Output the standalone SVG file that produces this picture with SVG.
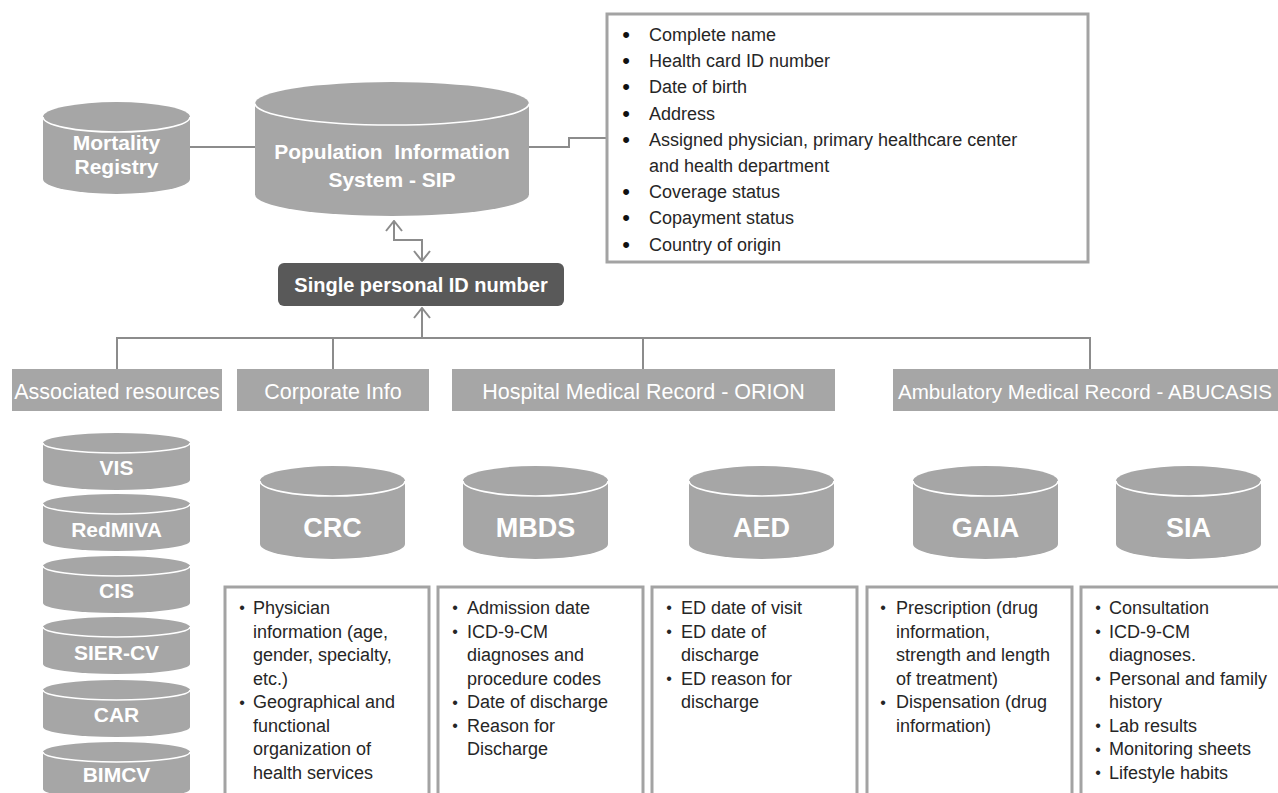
<svg xmlns="http://www.w3.org/2000/svg" width="1278" height="793" viewBox="0 0 1278 793">
<style>
  .cyl{fill:#a6a6a6}
  .rim{fill:none;stroke:#ffffff;stroke-width:1.6}
  .hdr{fill:#a6a6a6}
  .box{fill:#ffffff;stroke:#a3a3a3;stroke-width:3}
  .con{fill:none;stroke:#8c8c8c;stroke-width:2}
  .wb{font-family:"Liberation Sans",Arial,sans-serif;font-weight:bold;fill:#ffffff;text-anchor:middle}
  .wh{font-family:"Liberation Sans",Arial,sans-serif;fill:#ffffff;font-size:21.5px;text-anchor:middle}
  .whs{font-family:"Liberation Sans",Arial,sans-serif;fill:#ffffff;font-size:21px;text-anchor:start}
  .lst{font-family:"Liberation Sans",Arial,sans-serif;fill:#262626;font-size:18px}
  .bul{font-family:"Liberation Sans",Arial,sans-serif;fill:#262626;font-size:16px;text-anchor:middle}
  .bulb{font-family:"Liberation Sans",Arial,sans-serif;fill:#111111;font-size:22px;text-anchor:middle}
</style>
<defs>
  <marker id="arr" viewBox="0 0 12 18" refX="11" refY="9" markerWidth="12" markerHeight="18" markerUnits="userSpaceOnUse" orient="auto-start-reverse">
    <path d="M1,1 L11,9 L1,17" fill="none" stroke="#8c8c8c" stroke-width="2"/>
  </marker>
</defs>
<rect width="1278" height="793" fill="#ffffff"/>

<g id="connectors">
  <path class="con" d="M190,147 H255"/>
  <path class="con" d="M529,147 H569 V138 H607"/>
  <path class="con" d="M394,221 V240 H422 V261" marker-start="url(#arr)" marker-end="url(#arr)"/>
  <path class="con" d="M422,338 V308" marker-end="url(#arr)"/>
  <path class="con" d="M117,369 V338 H1090 V369"/>
  <path class="con" d="M333,338 V369"/>
  <path class="con" d="M643,338 V369"/>
</g>

<g id="mortality">
  <path class="cyl" d="M43,117 V179 A73.5,15 0 0 0 190,179 V117 Z"/>
  <ellipse class="cyl" cx="116.5" cy="117" rx="73.5" ry="15"/>
  <path class="rim" d="M43,117 A73.5,15 0 0 0 190,117"/>
  <text class="wb" font-size="21" x="116.5" y="150">Mortality</text>
  <text class="wb" font-size="21" x="116.5" y="174">Registry</text>
</g>

<g id="sip">
  <path class="cyl" d="M255,103.5 V194.5 A137,21.5 0 0 0 529,194.5 V103.5 Z"/>
  <ellipse class="cyl" cx="392" cy="103.5" rx="137" ry="21.5"/>
  <path class="rim" d="M255,103.5 A137,21.5 0 0 0 529,103.5"/>
  <text class="wb" font-size="21" x="392" y="159" xml:space="preserve">Population  Information</text>
  <text class="wb" font-size="21" x="392" y="187">System - SIP</text>
</g>

<g id="sip-details">
  <rect class="box" x="607" y="14" width="481" height="248"/>
  <g class="bulb">
    <text x="626" y="42">•</text><text x="626" y="68">•</text><text x="626" y="94">•</text>
    <text x="626" y="121">•</text><text x="626" y="147">•</text><text x="626" y="199">•</text>
    <text x="626" y="225">•</text><text x="626" y="252">•</text>
  </g>
  <g class="lst">
    <text x="649" y="41">Complete name</text>
    <text x="649" y="67">Health card ID number</text>
    <text x="649" y="93">Date of birth</text>
    <text x="649" y="120">Address</text>
    <text x="649" y="146">Assigned physician, primary healthcare center</text>
    <text x="649" y="172">and health department</text>
    <text x="649" y="198">Coverage status</text>
    <text x="649" y="224">Copayment status</text>
    <text x="649" y="251">Country of origin</text>
  </g>
</g>

<g id="single-id">
  <rect x="278" y="263" width="286" height="43" rx="6" fill="#595959"/>
  <text class="wb" font-size="20" x="421" y="292">Single personal ID number</text>
</g>

<g id="hdr-associated">
  <rect class="hdr" x="12" y="369" width="210" height="42"/>
  <text class="wh" x="117" y="399">Associated resources</text>
</g>
<g id="hdr-corporate">
  <rect class="hdr" x="237" y="369" width="192" height="42"/>
  <text class="wh" x="333" y="399">Corporate Info</text>
</g>
<g id="hdr-hospital">
  <rect class="hdr" x="452" y="369" width="383" height="42"/>
  <text class="wh" x="643.5" y="399">Hospital Medical Record - ORION</text>
</g>
<g id="hdr-ambulatory">
  <rect class="hdr" x="893" y="369" width="400" height="42"/>
  <text class="whs" x="898" y="399" textLength="374" lengthAdjust="spacingAndGlyphs">Ambulatory Medical Record - ABUCASIS</text>
</g>

<g id="vis">
  <path class="cyl" d="M43,443 V480 A73.5,10 0 0 0 190,480 V443 Z"/>
  <ellipse class="cyl" cx="116.5" cy="443" rx="73.5" ry="10"/>
  <path class="rim" d="M43,443 A73.5,10 0 0 0 190,443"/>
  <text class="wb" font-size="21" x="116.5" y="475">VIS</text>
</g>
<g id="redmiva">
  <path class="cyl" d="M43,504 V541 A73.5,10 0 0 0 190,541 V504 Z"/>
  <ellipse class="cyl" cx="116.5" cy="504" rx="73.5" ry="10"/>
  <path class="rim" d="M43,504 A73.5,10 0 0 0 190,504"/>
  <text class="wb" font-size="21" x="116.5" y="537">RedMIVA</text>
</g>
<g id="cis">
  <path class="cyl" d="M43,566 V603 A73.5,10 0 0 0 190,603 V566 Z"/>
  <ellipse class="cyl" cx="116.5" cy="566" rx="73.5" ry="10"/>
  <path class="rim" d="M43,566 A73.5,10 0 0 0 190,566"/>
  <text class="wb" font-size="21" x="116.5" y="598">CIS</text>
</g>
<g id="sier-cv">
  <path class="cyl" d="M43,627 V664 A73.5,10 0 0 0 190,664 V627 Z"/>
  <ellipse class="cyl" cx="116.5" cy="627" rx="73.5" ry="10"/>
  <path class="rim" d="M43,627 A73.5,10 0 0 0 190,627"/>
  <text class="wb" font-size="21" x="116.5" y="660">SIER-CV</text>
</g>
<g id="car">
  <path class="cyl" d="M43,690 V727 A73.5,10 0 0 0 190,727 V690 Z"/>
  <ellipse class="cyl" cx="116.5" cy="690" rx="73.5" ry="10"/>
  <path class="rim" d="M43,690 A73.5,10 0 0 0 190,690"/>
  <text class="wb" font-size="21" x="116.5" y="722">CAR</text>
</g>
<g id="bimcv">
  <path class="cyl" d="M43,752 V789 A73.5,10 0 0 0 190,789 V752 Z"/>
  <ellipse class="cyl" cx="116.5" cy="752" rx="73.5" ry="10"/>
  <path class="rim" d="M43,752 A73.5,10 0 0 0 190,752"/>
  <text class="wb" font-size="21" x="116.5" y="782">BIMCV</text>
</g>

<g id="crc">
  <path class="cyl" d="M260,481 V544 A72.5,15 0 0 0 405,544 V481 Z"/>
  <ellipse class="cyl" cx="332.5" cy="481" rx="72.5" ry="15"/>
  <path class="rim" d="M260,481 A72.5,15 0 0 0 405,481"/>
  <text class="wb" font-size="27" x="332.5" y="537">CRC</text>
</g>
<g id="mbds">
  <path class="cyl" d="M463,481 V544 A72.5,15 0 0 0 608,544 V481 Z"/>
  <ellipse class="cyl" cx="535.5" cy="481" rx="72.5" ry="15"/>
  <path class="rim" d="M463,481 A72.5,15 0 0 0 608,481"/>
  <text class="wb" font-size="27" x="535.5" y="537">MBDS</text>
</g>
<g id="aed">
  <path class="cyl" d="M689,481 V544 A72.5,15 0 0 0 834,544 V481 Z"/>
  <ellipse class="cyl" cx="761.5" cy="481" rx="72.5" ry="15"/>
  <path class="rim" d="M689,481 A72.5,15 0 0 0 834,481"/>
  <text class="wb" font-size="27" x="761.5" y="537">AED</text>
</g>
<g id="gaia">
  <path class="cyl" d="M913,481 V544 A72.5,15 0 0 0 1058,544 V481 Z"/>
  <ellipse class="cyl" cx="985.5" cy="481" rx="72.5" ry="15"/>
  <path class="rim" d="M913,481 A72.5,15 0 0 0 1058,481"/>
  <text class="wb" font-size="27" x="985.5" y="537">GAIA</text>
</g>
<g id="sia">
  <path class="cyl" d="M1116,481 V544 A72.5,15 0 0 0 1261,544 V481 Z"/>
  <ellipse class="cyl" cx="1188.5" cy="481" rx="72.5" ry="15"/>
  <path class="rim" d="M1116,481 A72.5,15 0 0 0 1261,481"/>
  <text class="wb" font-size="27" x="1188.5" y="537">SIA</text>
</g>

<g id="crc-details">
  <rect class="box" x="225" y="587" width="204" height="220"/>
  <g class="bul"><text x="242" y="613">•</text><text x="242" y="708">•</text></g>
  <g class="lst">
    <text x="253" y="614">Physician</text>
    <text x="253" y="638">information (age,</text>
    <text x="253" y="661">gender, specialty,</text>
    <text x="253" y="685">etc.)</text>
    <text x="253" y="708">Geographical and</text>
    <text x="253" y="732">functional</text>
    <text x="253" y="755">organization of</text>
    <text x="253" y="779">health services</text>
  </g>
</g>
<g id="mbds-details">
  <rect class="box" x="438" y="587" width="205" height="220"/>
  <g class="bul"><text x="455" y="613">•</text><text x="455" y="637">•</text><text x="455" y="708">•</text><text x="455" y="731">•</text></g>
  <g class="lst">
    <text x="467" y="614">Admission date</text>
    <text x="467" y="638">ICD-9-CM</text>
    <text x="467" y="661">diagnoses and</text>
    <text x="467" y="685">procedure codes</text>
    <text x="467" y="708">Date of discharge</text>
    <text x="467" y="732">Reason for</text>
    <text x="467" y="755">Discharge</text>
  </g>
</g>
<g id="aed-details">
  <rect class="box" x="652" y="587" width="205" height="220"/>
  <g class="bul"><text x="669" y="613">•</text><text x="669" y="637">•</text><text x="669" y="684">•</text></g>
  <g class="lst">
    <text x="681" y="614">ED date of visit</text>
    <text x="681" y="638">ED date of</text>
    <text x="681" y="661">discharge</text>
    <text x="681" y="685">ED reason for</text>
    <text x="681" y="708">discharge</text>
  </g>
</g>
<g id="gaia-details">
  <rect class="box" x="867" y="587" width="205" height="220"/>
  <g class="bul"><text x="883" y="613">•</text><text x="883" y="708">•</text></g>
  <g class="lst">
    <text x="896" y="614">Prescription (drug</text>
    <text x="896" y="638">information,</text>
    <text x="896" y="661">strength and length</text>
    <text x="896" y="685">of treatment)</text>
    <text x="896" y="708">Dispensation (drug</text>
    <text x="896" y="732">information)</text>
  </g>
</g>
<g id="sia-details">
  <rect class="box" x="1081" y="587" width="210" height="220"/>
  <g class="bul"><text x="1098" y="613">•</text><text x="1098" y="637">•</text><text x="1098" y="684">•</text><text x="1098" y="731">•</text><text x="1098" y="755">•</text><text x="1098" y="778">•</text></g>
  <g class="lst">
    <text x="1109" y="614">Consultation</text>
    <text x="1109" y="638">ICD-9-CM</text>
    <text x="1109" y="661">diagnoses.</text>
    <text x="1109" y="685">Personal and family</text>
    <text x="1109" y="708">history</text>
    <text x="1109" y="732">Lab results</text>
    <text x="1109" y="755">Monitoring sheets</text>
    <text x="1109" y="779">Lifestyle habits</text>
  </g>
</g>
</svg>
